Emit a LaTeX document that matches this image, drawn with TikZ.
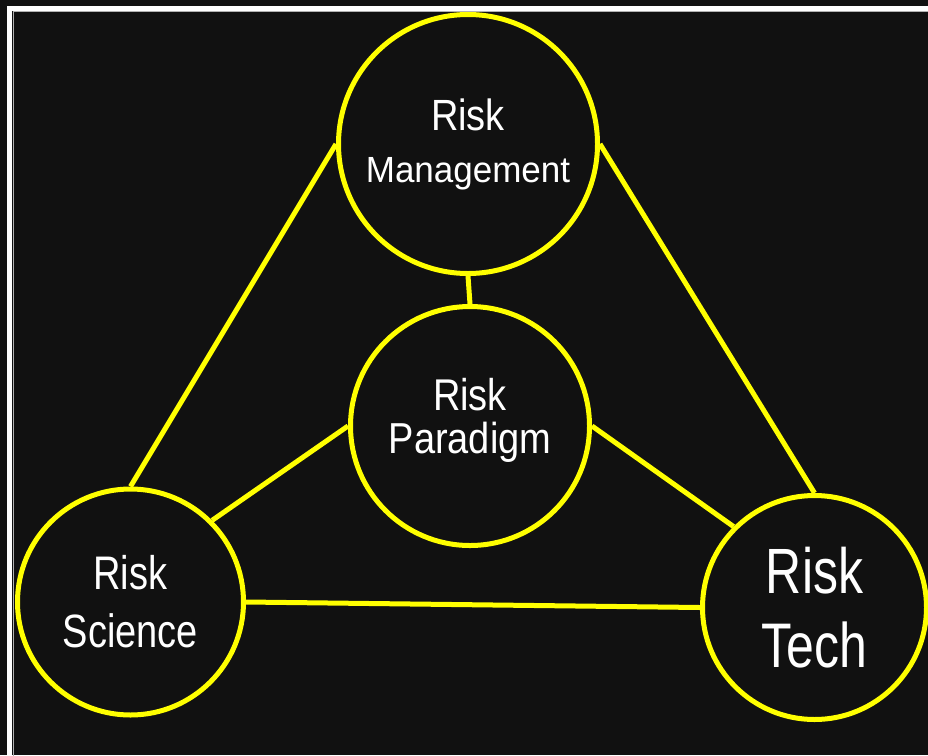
\documentclass[tikz,border=0pt]{standalone}
\usepackage{fontspec}
\setmainfont{Liberation Sans}
\usepackage{graphicx}
\usepackage{xcolor}
\usepackage{tikz}
\usetikzlibrary{positioning, shapes}
\definecolor{bgblack}{HTML}{111111}
\definecolor{riskyellow}{HTML}{FFFF00}
\newcommand{\tallword}[2]{\scalebox{1}[#1]{#2}}

\begin{document}
\begin{tikzpicture}[x=1pt,y=-1pt]
            \tikzset{riskcircle/.style = {circle, draw=riskyellow, line width=5pt, fill=bgblack, text=white, align=center, inner sep=0pt}}
            \tikzset{link/.style = {draw=riskyellow, line width=5pt}}

            % background and frame
            \useasboundingbox (0,0) rectangle (928,755);
            \fill[bgblack] (0,0) rectangle (928,755);
            \draw[white, line width=5pt] (9.8,8) rectangle (950,780);
            \draw[gray!60, line width=1.2pt] (13.3,11.5) rectangle (950,780);

            % connectors first, circles on top
            \coordinate (mgmtc) at (468,144);
            \coordinate (paradigmc) at (470,426);
            \coordinate (sciencec) at (130.5,602);
            \coordinate (techc) at (814.5,607.5);

            % risk circles
            \node[riskcircle, minimum size=259pt, font=\fontsize{38}{56}\selectfont] (mgmt) at (mgmtc) {\tallword{1.15}{Risk}\\[-4pt]{\fontsize{35}{40}\selectfont\tallword{1.04}{Management}}};
            \node[riskcircle, minimum size=239pt, font=\fontsize{38}{43}\selectfont, text depth=20pt] (paradigm) at (paradigmc) {\tallword{1.17}{Risk}\\\tallword{1.14}{Paradigm}};
            \node[riskcircle, minimum size=226pt, font=\fontsize{38}{58}\selectfont] (science) at (sciencec) {\tallword{1.24}{Risk}\\\tallword{1.23}{Science}};
            \node[riskcircle, minimum size=224pt, font=\fontsize{50}{74}\selectfont] (tech) at (techc) {\tallword{1.28}{Risk}\\\tallword{1.26}{Tech}};

            % links between circles
            \draw[link] (mgmt.south) -- (paradigm.north);
            \draw[link] (mgmt.west) -- (science.north);
            \draw[link] (mgmt.east) -- (tech.north);
            \draw[link] (science.east) -- (tech.west);
            \draw[link] (paradigm.west) -- (science.north east);
            \draw[link] (paradigm.east) -- (tech.north west);
\end{tikzpicture}
\end{document}
